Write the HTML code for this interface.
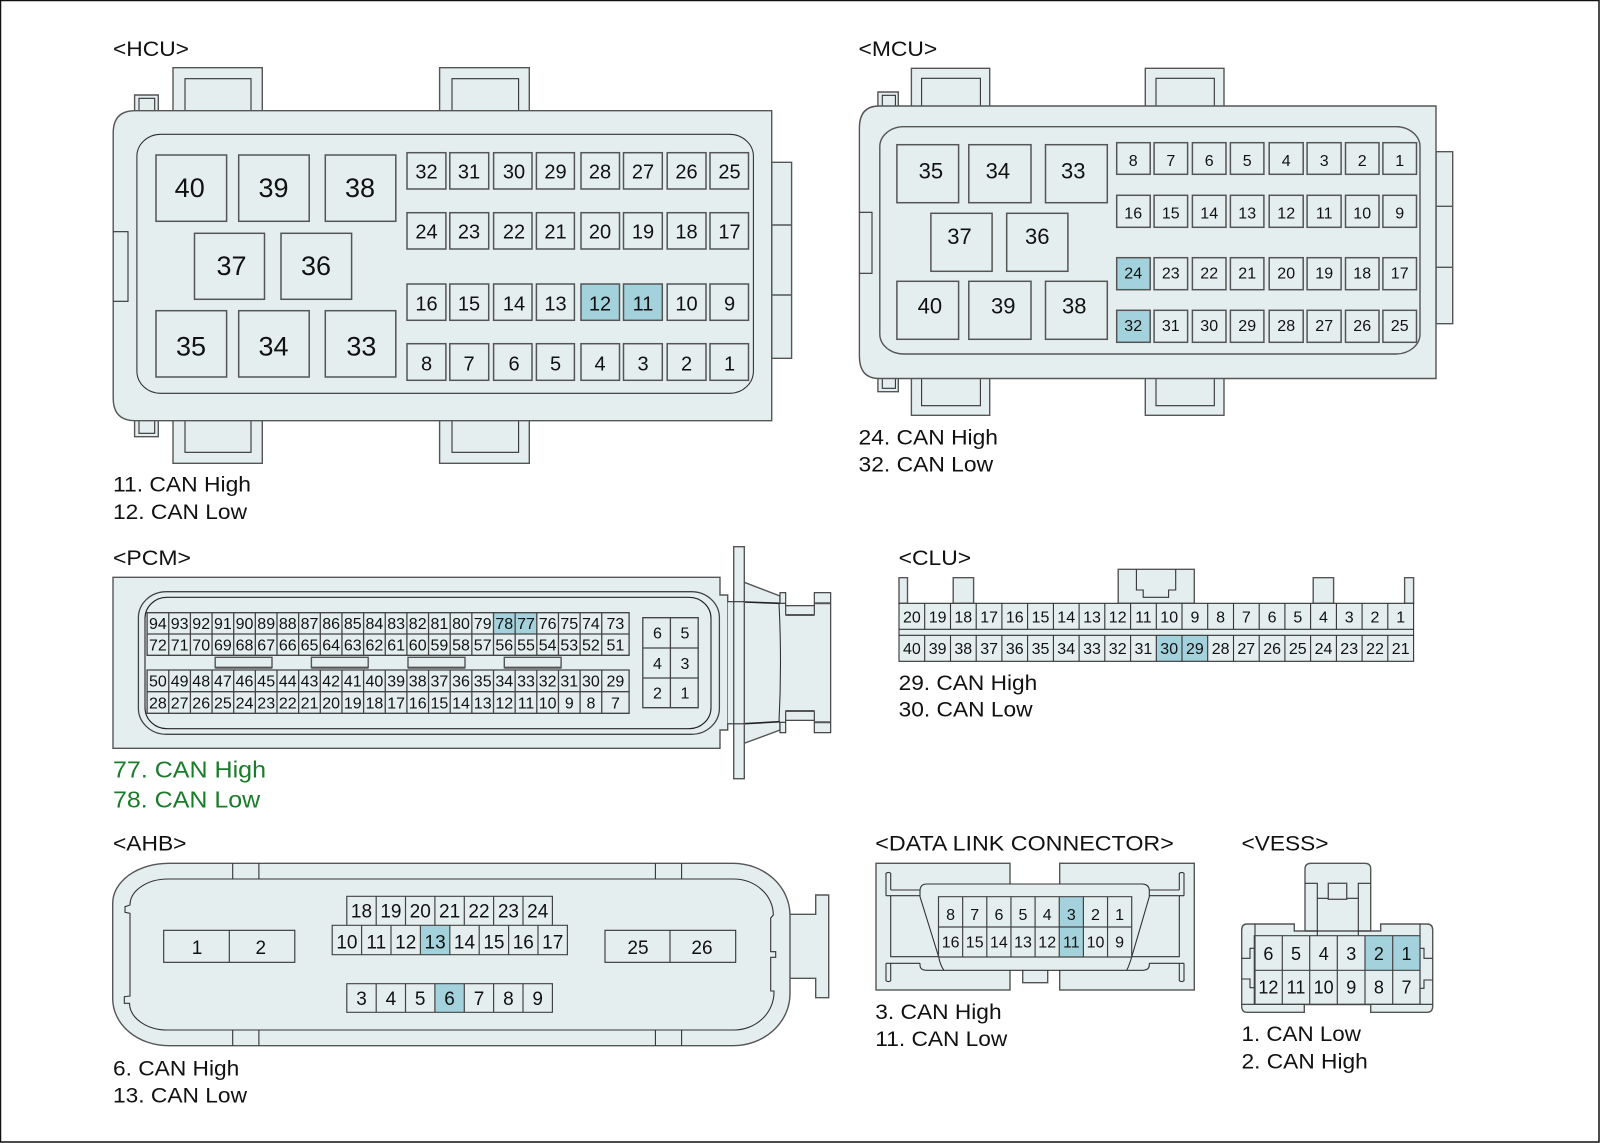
<!DOCTYPE html>
<html><head><meta charset="utf-8"><style>
html,body{margin:0;padding:0;background:#fff}
svg{display:block}
text{font-family:"Liberation Sans",sans-serif;fill:#111}
.n text{text-anchor:middle}
.l text{font-size:21px}
.g text{fill:#1a7c2a;font-size:23px}
.b{fill:#e5eeef;stroke:#555;stroke-width:1.4}
.t{fill:none;stroke:#333;stroke-width:1.1}
.c rect{fill:#e5eeef;stroke:#555;stroke-width:1.5}
.c rect.h,.h{fill:#a4d2dc}
</style></head><body>
<svg xmlns="http://www.w3.org/2000/svg" width="1600" height="1143" viewBox="0 0 1600 1143">
<rect width="1600" height="1143" fill="#fff"/>
<rect x="0.5" y="0.5" width="1598.5" height="1141.5" fill="none" stroke="#111" stroke-width="1.5"/>

<!-- HCU -->
<g class="l">
<text x="113" y="56" textLength="76" lengthAdjust="spacingAndGlyphs">&lt;HCU&gt;</text>
<text x="113" y="491.7" textLength="138" lengthAdjust="spacingAndGlyphs">11. CAN High</text>
<text x="113" y="519" textLength="134" lengthAdjust="spacingAndGlyphs">12. CAN Low</text>
</g>
<path class="b" d="M173 115V67.7H262.3V115ZM439.6 115V67.7H529.3V115ZM173 415V463.3H262.3V415ZM439.6 415V463.3H529.3V415ZM134.6 115V95H158.3V115ZM134.6 415V436.7H158.3V415Z"/>
<path class="t" d="M185 115V78.7H251V115M452 115V78.7H518.6V115M185 415V452.3H251V415M452 415V452.3H518.6V415M139 115V98.3H154.7V115M139 415V433.3H154.7V415"/>
<path class="b" d="M771.7 162.3H791.6V358.3H771.7ZM771.7 225H791.6M771.7 295H791.6"/>
<path class="b" d="M135 110.7H771.7V420.7H135Q113.2 420.7 113.2 398V133Q113.2 110.7 135 110.7Z"/>
<path class="t" d="M113.2 231.7H128V301.3H113.2"/>
<rect class="t" x="136.9" y="134.3" width="616.5" height="259" rx="24" ry="22"/>
<g class="c">
<rect x="156" y="155" width="70.6" height="66.3"/><rect x="238.7" y="155" width="70.5" height="66.3"/><rect x="325.3" y="155" width="70.5" height="66.3"/>
<rect x="194.5" y="233.3" width="70" height="66"/><rect x="281" y="233.3" width="70.6" height="66"/>
<rect x="156" y="310.7" width="70.6" height="66.3"/><rect x="238.7" y="310.7" width="70.5" height="66.3"/><rect x="325.3" y="310.7" width="70.5" height="66.3"/>
<rect x="407" y="152.7" width="38.9" height="36.3"/><rect x="449.8" y="152.7" width="38.9" height="36.3"/><rect x="493.6" y="152.7" width="38.4" height="36.3"/><rect x="536.4" y="152.7" width="38" height="36.3"/><rect x="581" y="152.7" width="38.5" height="36.3"/><rect x="623.5" y="152.7" width="38.8" height="36.3"/><rect x="667.2" y="152.7" width="38.8" height="36.3"/><rect x="710" y="152.7" width="38.5" height="36.3"/>
<rect x="407" y="212.7" width="38.9" height="36.3"/><rect x="449.8" y="212.7" width="38.9" height="36.3"/><rect x="493.6" y="212.7" width="38.4" height="36.3"/><rect x="536.4" y="212.7" width="38" height="36.3"/><rect x="581" y="212.7" width="38.5" height="36.3"/><rect x="623.5" y="212.7" width="38.8" height="36.3"/><rect x="667.2" y="212.7" width="38.8" height="36.3"/><rect x="710" y="212.7" width="38.5" height="36.3"/>
<rect x="407" y="284" width="38.9" height="36.3"/><rect x="449.8" y="284" width="38.9" height="36.3"/><rect x="493.6" y="284" width="38.4" height="36.3"/><rect x="536.4" y="284" width="38" height="36.3"/><rect class="h" x="581" y="284" width="38.5" height="36.3"/><rect class="h" x="623.5" y="284" width="38.8" height="36.3"/><rect x="667.2" y="284" width="38.8" height="36.3"/><rect x="710" y="284" width="38.5" height="36.3"/>
<rect x="407" y="343.7" width="38.9" height="36.6"/><rect x="449.8" y="343.7" width="38.9" height="36.6"/><rect x="493.6" y="343.7" width="38.4" height="36.6"/><rect x="536.4" y="343.7" width="38" height="36.6"/><rect x="581" y="343.7" width="38.5" height="36.6"/><rect x="623.5" y="343.7" width="38.8" height="36.6"/><rect x="667.2" y="343.7" width="38.8" height="36.6"/><rect x="710" y="343.7" width="38.5" height="36.6"/>
</g>
<g class="n" font-size="27">
<text x="189.7" y="197">40</text><text x="273.5" y="197">39</text><text x="360" y="197">38</text>
<text x="231.5" y="275">37</text><text x="316" y="275">36</text>
<text x="191" y="355.7">35</text><text x="273.5" y="355.7">34</text><text x="361.4" y="355.7">33</text>
</g>
<g class="n" font-size="20">
<text x="426.5" y="178.3">32</text><text x="469" y="178.3">31</text><text x="514" y="178.3">30</text><text x="555.5" y="178.3">29</text><text x="600" y="178.3">28</text><text x="643" y="178.3">27</text><text x="686.5" y="178.3">26</text><text x="729.5" y="178.3">25</text>
<text x="426.5" y="238.3">24</text><text x="469" y="238.3">23</text><text x="514" y="238.3">22</text><text x="555.5" y="238.3">21</text><text x="600" y="238.3">20</text><text x="643" y="238.3">19</text><text x="686.5" y="238.3">18</text><text x="729.5" y="238.3">17</text>
<text x="426.5" y="310.7">16</text><text x="469" y="310.7">15</text><text x="514" y="310.7">14</text><text x="555.5" y="310.7">13</text><text x="600" y="310.7">12</text><text x="643" y="310.7">11</text><text x="686.5" y="310.7">10</text><text x="729.5" y="310.7">9</text>
<text x="426.5" y="370.7">8</text><text x="469" y="370.7">7</text><text x="514" y="370.7">6</text><text x="555.5" y="370.7">5</text><text x="600" y="370.7">4</text><text x="643" y="370.7">3</text><text x="686.5" y="370.7">2</text><text x="729.5" y="370.7">1</text>
</g>

<!-- MCU -->
<g class="l">
<text x="858.5" y="56" textLength="78.7" lengthAdjust="spacingAndGlyphs">&lt;MCU&gt;</text>
<text x="858.5" y="444.3" textLength="139.5" lengthAdjust="spacingAndGlyphs">24. CAN High</text>
<text x="858.5" y="471.7" textLength="134.6" lengthAdjust="spacingAndGlyphs">32. CAN Low</text>
</g>
<path class="b" d="M911.4 110V68.3H989.7V110ZM1145.3 110V68.3H1224V110ZM911.4 372V415.3H989.7V372ZM1145.3 372V415.3H1224V372ZM877.9 110V92H898.3V110ZM877.9 372V391.7H898.3V372Z"/>
<path class="t" d="M921.6 110V78.3H980.4V110M1156 110V78.3H1214.3V110M921.6 372V405.7H980.4V372M1156 372V405.7H1214.3V372M882.3 110V95.3H895.4V110M882.3 372V388.3H895.4V372"/>
<path class="b" d="M1436 151.7H1452.7V323.7H1436ZM1436 206.3H1452.7M1436 267.3H1452.7"/>
<path class="b" d="M879 106H1436V378.5H879Q859.4 378.5 859.4 356V128Q859.4 106 879 106Z"/>
<path class="t" d="M859.4 212.3H872V273.3H859.4"/>
<rect class="t" x="879.8" y="126.7" width="540.2" height="227.3" rx="24" ry="20" style="stroke:#555;stroke-width:1.4"/>
<g class="c">
<rect x="896.9" y="144.7" width="61.7" height="58"/><rect x="968.8" y="144.7" width="62.2" height="58"/><rect x="1045.5" y="144.7" width="61.8" height="58"/>
<rect x="930.9" y="213.3" width="61.2" height="58"/><rect x="1006.7" y="213.3" width="61.2" height="58"/>
<rect x="896.9" y="281.3" width="61.7" height="58"/><rect x="968.8" y="281.3" width="62.2" height="58"/><rect x="1045.5" y="281.3" width="61.8" height="58"/>
<g transform="translate(-0.8 0)">
<rect x="1117.5" y="142.7" width="33.5" height="31.6"/><rect x="1154.9" y="142.7" width="33.5" height="31.6"/><rect x="1193.2" y="142.7" width="33.6" height="31.6"/><rect x="1231.2" y="142.7" width="33.5" height="31.6"/><rect x="1270" y="142.7" width="34" height="31.6"/><rect x="1307.9" y="142.7" width="34" height="31.6"/><rect x="1346.3" y="142.7" width="33.5" height="31.6"/><rect x="1383.7" y="142.7" width="33.6" height="31.6"/>
<rect x="1117.5" y="195.3" width="33.5" height="32"/><rect x="1154.9" y="195.3" width="33.5" height="32"/><rect x="1193.2" y="195.3" width="33.6" height="32"/><rect x="1231.2" y="195.3" width="33.5" height="32"/><rect x="1270" y="195.3" width="34" height="32"/><rect x="1307.9" y="195.3" width="34" height="32"/><rect x="1346.3" y="195.3" width="33.5" height="32"/><rect x="1383.7" y="195.3" width="33.6" height="32"/>
<rect class="h" x="1117.5" y="257.7" width="33.5" height="32"/><rect x="1154.9" y="257.7" width="33.5" height="32"/><rect x="1193.2" y="257.7" width="33.6" height="32"/><rect x="1231.2" y="257.7" width="33.5" height="32"/><rect x="1270" y="257.7" width="34" height="32"/><rect x="1307.9" y="257.7" width="34" height="32"/><rect x="1346.3" y="257.7" width="33.5" height="32"/><rect x="1383.7" y="257.7" width="33.6" height="32"/>
<rect class="h" x="1117.5" y="310.3" width="33.5" height="32"/><rect x="1154.9" y="310.3" width="33.5" height="32"/><rect x="1193.2" y="310.3" width="33.6" height="32"/><rect x="1231.2" y="310.3" width="33.5" height="32"/><rect x="1270" y="310.3" width="34" height="32"/><rect x="1307.9" y="310.3" width="34" height="32"/><rect x="1346.3" y="310.3" width="33.5" height="32"/><rect x="1383.7" y="310.3" width="33.6" height="32"/>
</g>
</g>
<g class="n" font-size="22">
<text x="930.9" y="178.3">35</text><text x="997.9" y="178.3">34</text><text x="1073.2" y="178.3">33</text>
<text x="959.5" y="244">37</text><text x="1037.3" y="244">36</text>
<text x="929.9" y="313.3">40</text><text x="1003.3" y="313.3">39</text><text x="1074.2" y="313.3">38</text>
</g>
<g class="n" font-size="16" transform="translate(-0.8 0)">
<text x="1134" y="166">8</text><text x="1171.6" y="166">7</text><text x="1210" y="166">6</text><text x="1248" y="166">5</text><text x="1287" y="166">4</text><text x="1325" y="166">3</text><text x="1363" y="166">2</text><text x="1400.5" y="166">1</text>
<text x="1134" y="218.3">16</text><text x="1171.6" y="218.3">15</text><text x="1210" y="218.3">14</text><text x="1248" y="218.3">13</text><text x="1287" y="218.3">12</text><text x="1325" y="218.3">11</text><text x="1363" y="218.3">10</text><text x="1400.5" y="218.3">9</text>
<text x="1134" y="278.3">24</text><text x="1171.6" y="278.3">23</text><text x="1210" y="278.3">22</text><text x="1248" y="278.3">21</text><text x="1287" y="278.3">20</text><text x="1325" y="278.3">19</text><text x="1363" y="278.3">18</text><text x="1400.5" y="278.3">17</text>
<text x="1134" y="331">32</text><text x="1171.6" y="331">31</text><text x="1210" y="331">30</text><text x="1248" y="331">29</text><text x="1287" y="331">28</text><text x="1325" y="331">27</text><text x="1363" y="331">26</text><text x="1400.5" y="331">25</text>
</g>

<!-- PCM -->
<g class="l"><text x="113" y="565" textLength="78" lengthAdjust="spacingAndGlyphs">&lt;PCM&gt;</text></g>
<g class="g">
<text x="113" y="777.7" textLength="153" lengthAdjust="spacingAndGlyphs">77. CAN High</text>
<text x="113" y="807.3" textLength="147.2" lengthAdjust="spacingAndGlyphs">78. CAN Low</text>
</g>
<path class="b" d="M744.3 582.3L780 596V730L744.3 743.3Z"/>
<path class="b" d="M775 602H780V592.7H785.7V605.7H814.3V592.7H830.7V732.7H814.3V720.3H785.7V732.7H780V722.3H775Z" style="stroke:none"/>
<path class="t" d="M780 603.3V592.7H785.7V605.7H814.3V592.7H830.7V732.7H814.3V720.3H785.7V732.7H780V722.3M785.7 605.7V615H814.3V605.7M785.7 720.3V711H814.3V720.3M780 603.3H785.7M814.3 603.3H830.7M780 722.3H785.7M814.3 722.3H830.7"/>
<path fill="none" stroke="#555" stroke-width="2" d="M785.7 615H814.3M785.7 711H814.3M814.3 603.3H830.7M814.3 722.3H830.7"/>
<path d="M744.3 602L780 603.3M744.3 723.7L780 721.7" fill="none" stroke="#222" stroke-width="1.6"/>
<path class="t" d="M779 603.3Q782 663 779 721.7"/>
<path class="b" d="M113 577.3H720V595H727.7V730H720V748.3H113Z"/>
<rect class="b" x="727.7" y="601.7" width="6" height="121.6" style="stroke:none"/>
<rect class="b" x="733.7" y="546.7" width="10.6" height="232"/>
<path class="t" d="M727.7 601.7H744.3M727.7 723.8H744.3"/>
<rect x="138.4" y="591.7" width="581" height="142.6" rx="28" ry="26" fill="none" stroke="#444" stroke-width="1.3"/>
<rect x="145" y="597.3" width="566" height="131.4" rx="22" ry="21" fill="none" stroke="#222" stroke-width="1.1"/>
<rect class="h" x="493.5" y="612.7" width="43.3" height="21.3"/>
<path fill="none" stroke="#444" stroke-width="1.3" d="M147.1 612.7H629.1V655.3H147.1ZM147.1 634H629.1M147.1 670H629.1V713.3H147.1ZM147.1 691.7H629.1M168.75 612.7V655.3M190.4 612.7V655.3M212.05 612.7V655.3M233.7 612.7V655.3M255.35 612.7V655.3M277 612.7V655.3M298.65 612.7V655.3M320.3 612.7V655.3M341.95 612.7V655.3M363.6 612.7V655.3M385.25 612.7V655.3M406.9 612.7V655.3M428.55 612.7V655.3M450.2 612.7V655.3M471.85 612.7V655.3M493.5 612.7V655.3M515.15 612.7V655.3M536.8 612.7V655.3M558.45 612.7V655.3M580.1 612.7V655.3M601.75 612.7V655.3M168.75 670V713.3M190.4 670V713.3M212.05 670V713.3M233.7 670V713.3M255.35 670V713.3M277 670V713.3M298.65 670V713.3M320.3 670V713.3M341.95 670V713.3M363.6 670V713.3M385.25 670V713.3M406.9 670V713.3M428.55 670V713.3M450.2 670V713.3M471.85 670V713.3M493.5 670V713.3M515.15 670V713.3M536.8 670V713.3M558.45 670V713.3M580.1 670V713.3M601.75 670V713.3"/>
<path class="b" d="M215.2 657.3H272V667.7H215.2ZM311.4 657.3H368.2V667.7H311.4ZM408 657.3H465V667.7H408ZM504.3 657.3H561.1V667.7H504.3Z"/>
<path fill="none" stroke="#555" stroke-width="2.2" d="M215.2 667.7H272M311.4 667.7H368.2M408 667.7H465M504.3 667.7H561.1"/>
<path fill="none" stroke="#444" stroke-width="1.3" d="M642.8 617.7H698.2V707.7H642.8ZM642.8 648H698.2M642.8 678H698.2M670.4 617.7V707.7"/>
<g class="n" font-size="16">
<text x="157.9" y="629">94</text><text x="179.6" y="629">93</text><text x="201.2" y="629">92</text><text x="222.9" y="629">91</text><text x="244.5" y="629">90</text><text x="266.2" y="629">89</text><text x="287.8" y="629">88</text><text x="309.5" y="629">87</text><text x="331.1" y="629">86</text><text x="352.8" y="629">85</text><text x="374.4" y="629">84</text><text x="396.1" y="629">83</text><text x="417.7" y="629">82</text><text x="439.4" y="629">81</text><text x="461" y="629">80</text><text x="482.7" y="629">79</text><text x="504.3" y="629">78</text><text x="526" y="629">77</text><text x="547.6" y="629">76</text><text x="569.3" y="629">75</text><text x="590.9" y="629">74</text><text x="615.4" y="629">73</text>
<text x="157.9" y="650.7">72</text><text x="179.6" y="650.7">71</text><text x="201.2" y="650.7">70</text><text x="222.9" y="650.7">69</text><text x="244.5" y="650.7">68</text><text x="266.2" y="650.7">67</text><text x="287.8" y="650.7">66</text><text x="309.5" y="650.7">65</text><text x="331.1" y="650.7">64</text><text x="352.8" y="650.7">63</text><text x="374.4" y="650.7">62</text><text x="396.1" y="650.7">61</text><text x="417.7" y="650.7">60</text><text x="439.4" y="650.7">59</text><text x="461" y="650.7">58</text><text x="482.7" y="650.7">57</text><text x="504.3" y="650.7">56</text><text x="526" y="650.7">55</text><text x="547.6" y="650.7">54</text><text x="569.3" y="650.7">53</text><text x="590.9" y="650.7">52</text><text x="615.4" y="650.7">51</text>
<text x="157.9" y="686.7">50</text><text x="179.6" y="686.7">49</text><text x="201.2" y="686.7">48</text><text x="222.9" y="686.7">47</text><text x="244.5" y="686.7">46</text><text x="266.2" y="686.7">45</text><text x="287.8" y="686.7">44</text><text x="309.5" y="686.7">43</text><text x="331.1" y="686.7">42</text><text x="352.8" y="686.7">41</text><text x="374.4" y="686.7">40</text><text x="396.1" y="686.7">39</text><text x="417.7" y="686.7">38</text><text x="439.4" y="686.7">37</text><text x="461" y="686.7">36</text><text x="482.7" y="686.7">35</text><text x="504.3" y="686.7">34</text><text x="526" y="686.7">33</text><text x="547.6" y="686.7">32</text><text x="569.3" y="686.7">31</text><text x="590.9" y="686.7">30</text><text x="615.4" y="686.7">29</text>
<text x="157.9" y="708.3">28</text><text x="179.6" y="708.3">27</text><text x="201.2" y="708.3">26</text><text x="222.9" y="708.3">25</text><text x="244.5" y="708.3">24</text><text x="266.2" y="708.3">23</text><text x="287.8" y="708.3">22</text><text x="309.5" y="708.3">21</text><text x="331.1" y="708.3">20</text><text x="352.8" y="708.3">19</text><text x="374.4" y="708.3">18</text><text x="396.1" y="708.3">17</text><text x="417.7" y="708.3">16</text><text x="439.4" y="708.3">15</text><text x="461" y="708.3">14</text><text x="482.7" y="708.3">13</text><text x="504.3" y="708.3">12</text><text x="526" y="708.3">11</text><text x="547.6" y="708.3">10</text><text x="569.3" y="708.3">9</text><text x="590.9" y="708.3">8</text><text x="615.4" y="708.3">7</text>
<text x="657.4" y="638.3">6</text><text x="685" y="638.3">5</text><text x="657.4" y="669">4</text><text x="685" y="669">3</text><text x="657.4" y="698.3">2</text><text x="685" y="698.3">1</text>
</g>

<!-- CLU -->
<g class="l">
<text x="898.6" y="565" textLength="72.5" lengthAdjust="spacingAndGlyphs">&lt;CLU&gt;</text>
<text x="898.6" y="690" textLength="138.6" lengthAdjust="spacingAndGlyphs">29. CAN High</text>
<text x="898.6" y="716.7" textLength="134" lengthAdjust="spacingAndGlyphs">30. CAN Low</text>
</g>
<path class="b" d="M899 603.3V577.7H907.5V603.3ZM953.2 603.3V577.7H973.6V603.3ZM1118.2 603.3V569.3H1194.3V603.3ZM1313.2 603.3V577.7H1333.6V603.3ZM1404.6 603.3V577.7H1413.6V603.3Z"/>
<path class="t" d="M1136.4 569.3V590H1143.2V597.3H1168.6V590H1175.7V569.3"/>
<rect x="899" y="603.3" width="514.6" height="58" fill="#e5eeef"/>
<rect class="h" x="1156.3" y="635.3" width="51.4" height="26"/>
<path fill="none" stroke="#333" stroke-width="1.1" d="M899 603.3H1413.6V661.3H899ZM899 629.3H1413.6M899 635.3H1413.6M924.7 603.3V629.3M950.5 603.3V629.3M976.2 603.3V629.3M1001.9 603.3V629.3M1027.6 603.3V629.3M1053.4 603.3V629.3M1079.1 603.3V629.3M1104.8 603.3V629.3M1130.6 603.3V629.3M1156.3 603.3V629.3M1182 603.3V629.3M1207.7 603.3V629.3M1233.5 603.3V629.3M1259.2 603.3V629.3M1284.9 603.3V629.3M1310.6 603.3V629.3M1336.4 603.3V629.3M1362.1 603.3V629.3M1387.8 603.3V629.3M924.7 635.3V661.3M950.5 635.3V661.3M976.2 635.3V661.3M1001.9 635.3V661.3M1027.6 635.3V661.3M1053.4 635.3V661.3M1079.1 635.3V661.3M1104.8 635.3V661.3M1130.6 635.3V661.3M1156.3 635.3V661.3M1182 635.3V661.3M1207.7 635.3V661.3M1233.5 635.3V661.3M1259.2 635.3V661.3M1284.9 635.3V661.3M1310.6 635.3V661.3M1336.4 635.3V661.3M1362.1 635.3V661.3M1387.8 635.3V661.3"/>
<g class="n" font-size="16">
<text x="911.9" y="622.3">20</text><text x="937.6" y="622.3">19</text><text x="963.3" y="622.3">18</text><text x="989.1" y="622.3">17</text><text x="1014.8" y="622.3">16</text><text x="1040.5" y="622.3">15</text><text x="1066.2" y="622.3">14</text><text x="1092" y="622.3">13</text><text x="1117.7" y="622.3">12</text><text x="1143.4" y="622.3">11</text><text x="1169.2" y="622.3">10</text><text x="1194.9" y="622.3">9</text><text x="1220.6" y="622.3">8</text><text x="1246.3" y="622.3">7</text><text x="1272.1" y="622.3">6</text><text x="1297.8" y="622.3">5</text><text x="1323.5" y="622.3">4</text><text x="1349.2" y="622.3">3</text><text x="1375" y="622.3">2</text><text x="1400.7" y="622.3">1</text>
<text x="911.9" y="654">40</text><text x="937.6" y="654">39</text><text x="963.3" y="654">38</text><text x="989.1" y="654">37</text><text x="1014.8" y="654">36</text><text x="1040.5" y="654">35</text><text x="1066.2" y="654">34</text><text x="1092" y="654">33</text><text x="1117.7" y="654">32</text><text x="1143.4" y="654">31</text><text x="1169.2" y="654">30</text><text x="1194.9" y="654">29</text><text x="1220.6" y="654">28</text><text x="1246.3" y="654">27</text><text x="1272.1" y="654">26</text><text x="1297.8" y="654">25</text><text x="1323.5" y="654">24</text><text x="1349.2" y="654">23</text><text x="1375" y="654">22</text><text x="1400.7" y="654">21</text>
</g>

<!-- AHB -->
<g class="l">
<text x="113" y="850.7" textLength="73.5" lengthAdjust="spacingAndGlyphs">&lt;AHB&gt;</text>
<text x="113" y="1075.7" textLength="126.3" lengthAdjust="spacingAndGlyphs">6. CAN High</text>
<text x="113" y="1102.7" textLength="134" lengthAdjust="spacingAndGlyphs">13. CAN Low</text>
</g>
<path class="b" d="M785 914.3H815.7V895H828.7V997.7H815.7V978.3H785Z"/>
<path class="b" d="M168.3 863.3H733.3A57 52 0 0 1 790 915V993.3A57 52 0 0 1 733.3 1045.7H168.3A56 47 0 0 1 112.7 998.3V903.3A56 40 0 0 1 168.3 863.3Z"/>
<path class="t" d="M168.3 879H733.3A40 36 0 0 1 773.3 915L770.7 918V951.7H775.7V957.3H770.7V991H774A40 38 0 0 1 733.3 1030H168.3A38 27 0 0 1 129.5 1003.3H124.3V996.7L130 996V913.3L125 912.3V906.7L130 905A38 26 0 0 1 168.3 879Z"/>
<path class="t" d="M232.7 863.3V879M258.9 863.3V879M655.4 863.3V879M681.6 863.3V879M232.7 1030V1045.7M258.9 1030V1045.7M655.4 1030V1045.7M681.6 1030V1045.7"/>
<path fill="none" stroke="#333" stroke-width="1.1" d="M163.7 930.3H294.8V962.3H163.7ZM229.3 930.3V962.3M605 930.3H735.7V962.3H605ZM670 930.3V962.3"/>
<g transform="translate(-1 0)">
<rect class="h" x="421.4" y="925.3" width="29.4" height="29.4"/>
<rect class="h" x="435.9" y="983.7" width="29.4" height="28.6"/>
<path fill="none" stroke="#444" stroke-width="1.2" d="M347.8 925.3V896.3H553.4V925.3M377.2 896.3V925.3M406.5 896.3V925.3M435.9 896.3V925.3M465.3 896.3V925.3M494.6 896.3V925.3M524 896.3V925.3M333.2 925.3H568.4V954.7H333.2ZM362.6 925.3V954.7M392 925.3V954.7M421.4 925.3V954.7M450.8 925.3V954.7M480.2 925.3V954.7M509.6 925.3V954.7M539 925.3V954.7M347.8 983.7H553.4V1012.3H347.8ZM377.2 983.7V1012.3M406.5 983.7V1012.3M435.9 983.7V1012.3M465.3 983.7V1012.3M494.6 983.7V1012.3M524 983.7V1012.3"/>
<g class="n" font-size="19">
<text x="362.5" y="917.7">18</text><text x="391.9" y="917.7">19</text><text x="421.2" y="917.7">20</text><text x="450.6" y="917.7">21</text><text x="480" y="917.7">22</text><text x="509.4" y="917.7">23</text><text x="538.7" y="917.7">24</text>
<text x="347.9" y="948.3">10</text><text x="377.3" y="948.3">11</text><text x="406.7" y="948.3">12</text><text x="436.1" y="948.3">13</text><text x="465.5" y="948.3">14</text><text x="494.9" y="948.3">15</text><text x="524.3" y="948.3">16</text><text x="553.7" y="948.3">17</text>
<text x="362.5" y="1005">3</text><text x="391.9" y="1005">4</text><text x="421.2" y="1005">5</text><text x="450.6" y="1005">6</text><text x="480" y="1005">7</text><text x="509.4" y="1005">8</text><text x="538.7" y="1005">9</text>
</g>
</g>
<g class="n" font-size="19">
<text x="197" y="954">1</text><text x="260.8" y="954">2</text><text x="638" y="954">25</text><text x="702" y="954">26</text>
</g>

<!-- DATA LINK CONNECTOR -->
<g class="l">
<text x="875.3" y="850.7" textLength="298.5" lengthAdjust="spacingAndGlyphs">&lt;DATA LINK CONNECTOR&gt;</text>
<text x="875.3" y="1019" textLength="126.3" lengthAdjust="spacingAndGlyphs">3. CAN High</text>
<text x="875.3" y="1046" textLength="132" lengthAdjust="spacingAndGlyphs">11. CAN Low</text>
</g>
<rect class="b" x="876" y="863.3" width="134" height="126.7"/>
<rect class="b" x="1059.7" y="863.3" width="134.6" height="126.7"/>
<rect class="b" x="1022.7" y="965" width="25" height="17.7"/>
<rect x="920" y="884" width="229.3" height="86.3" rx="7" fill="#e5eeef"/>
<path class="t" d="M920 896.7V891Q920 884 927 884H1142Q1149.3 884 1149.3 891V896.7L1131.7 957Q1129 966 1126.7 970.3H944Q940.5 966 938.7 957ZM920 963.3V965Q920 970.3 927 970.3H944M1149.3 963.3V965Q1149.3 970.3 1142 970.3H1126.7"/>
<path class="t" d="M890.7 890H920M886 895.7H920M890.7 895.7V956.7H938.7M890.7 963.3H920M890.7 890V873.3Q888.4 871.5 886 873.3V895.7M886 963.3V980.7Q888.4 982.5 890.7 980.7V963.3M886 963.3H890.7"/>
<path class="t" d="M1149.3 890H1179.3M1149.3 895.7H1184M1179.3 895.7V956.7H1131.7M1149.3 963.3H1179.3M1179.3 890V873.3Q1181.7 871.5 1184 873.3V895.7M1184 963.3V980.7Q1181.7 982.5 1179.3 980.7V963.3M1184 963.3H1179.3"/>
<rect class="h" x="1059.25" y="896.7" width="24.15" height="60.3"/>
<path fill="none" stroke="#444" stroke-width="1.2" d="M938.5 896.7H1131.7V957H938.5ZM938.5 927H1131.7M962.65 896.7V957M986.8 896.7V957M1010.95 896.7V957M1035.1 896.7V957M1059.25 896.7V957M1083.4 896.7V957M1107.55 896.7V957"/>
<g class="n" font-size="16">
<text x="950.6" y="920">8</text><text x="974.7" y="920">7</text><text x="998.9" y="920">6</text><text x="1023" y="920">5</text><text x="1047.2" y="920">4</text><text x="1071.3" y="920">3</text><text x="1095.5" y="920">2</text><text x="1119.6" y="920">1</text>
<text x="950.6" y="947.3">16</text><text x="974.7" y="947.3">15</text><text x="998.9" y="947.3">14</text><text x="1023" y="947.3">13</text><text x="1047.2" y="947.3">12</text><text x="1071.3" y="947.3">11</text><text x="1095.5" y="947.3">10</text><text x="1119.6" y="947.3">9</text>
</g>

<!-- VESS -->
<g class="l">
<text x="1241.5" y="850.7" textLength="87" lengthAdjust="spacingAndGlyphs">&lt;VESS&gt;</text>
<text x="1241.5" y="1041" textLength="119.4" lengthAdjust="spacingAndGlyphs">1. CAN Low</text>
<text x="1241.5" y="1068.3" textLength="126.3" lengthAdjust="spacingAndGlyphs">2. CAN High</text>
</g>
<path class="b" d="M1305 940V869Q1305 863.3 1311 863.3H1365Q1370.7 863.3 1370.7 869V940Z"/>
<path class="b" d="M1247 924H1294.3V931H1380.7V924H1427Q1432.7 924 1432.7 930V1006Q1432.7 1012.3 1427 1012.3H1370.7V1004.5H1304.3V1012.3H1247Q1241.7 1012.3 1241.7 1006V930Q1241.7 924 1247 924Z"/>
<path class="t" d="M1305 883.3H1317.3V935.7M1370.7 883.3H1358.3V935.7M1317.3 898.3H1358.3M1305 931H1317.3M1358.3 931H1370.7"/>
<rect class="b" x="1328.3" y="883.3" width="18.4" height="16"/>
<path class="t" d="M1255 924V1004.3M1420 924V1004.3M1241.7 1004.3H1304.3M1370.7 1004.3H1432.7M1241.7 958.3H1250V948.3H1255M1241.7 979H1250V987.7H1255M1432.7 958.3H1424V948.3H1420M1432.7 980H1424V988.3H1420"/>
<rect class="h" x="1365" y="935.7" width="55" height="34.6"/>
<path fill="none" stroke="#444" stroke-width="1.2" d="M1254.3 935.7H1420V1004.3H1254.3ZM1254.3 970.3H1420M1282.3 935.7V1004.3M1309.7 935.7V1004.3M1337.3 935.7V1004.3M1365 935.7V1004.3M1392.7 935.7V1004.3"/>
<g class="n" font-size="18">
<text x="1268.4" y="960">6</text><text x="1296" y="960">5</text><text x="1323.7" y="960">4</text><text x="1351.3" y="960">3</text><text x="1378.9" y="960">2</text><text x="1406.5" y="960">1</text>
<text x="1268.4" y="993.3">12</text><text x="1296" y="993.3">11</text><text x="1323.7" y="993.3">10</text><text x="1351.3" y="993.3">9</text><text x="1378.9" y="993.3">8</text><text x="1406.5" y="993.3">7</text>
</g>
</svg>
</body></html>
